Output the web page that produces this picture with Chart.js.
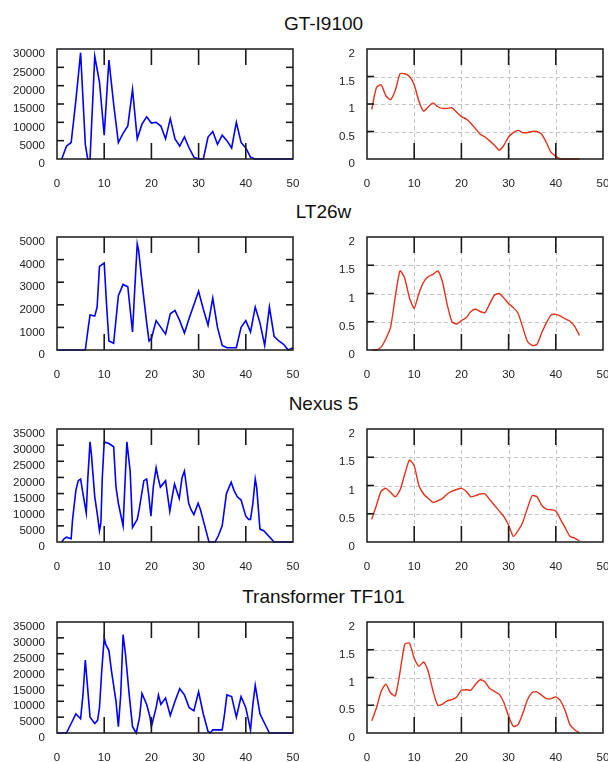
<!DOCTYPE html>
<html><head><meta charset="utf-8">
<script src="https://cdn.jsdelivr.net/npm/chart.js@4/dist/chart.umd.min.js"></script>
<style>
html,body{margin:0;padding:0;background:#fff;}
#wrap{position:relative;width:608px;height:762px;overflow:hidden;background:#fff;}
.title{position:absolute;left:0;width:647px;text-align:center;font-family:"Liberation Sans",Arial,sans-serif;font-size:19px;line-height:20px;height:20px;color:#111;white-space:nowrap;}
canvas{position:absolute;}
</style></head><body><div id="wrap"></div>
<script>
// ---- titles ----
const titles = ["GT-I9100", "LT26w", "Nexus 5", "Transformer TF101"];

// ---- axis ticks ----
const xTicks = [0, 10, 20, 30, 40, 50];
const leftMax = [30000, 5000, 35000, 35000];
const leftStep = [5000, 1000, 5000, 5000];
const rightMax = 2;
const rightStep = 0.5;

// ---- left (blue) series: x positions and values ----
const gtX = [1,2,3,4,5,6,6.5,7,8,9,10,11,12,13,14,15,16,17,18,19,20,21,22,23,24,25,26,27,28,29,30,31,32,33,34,35,36,37,38,39,40,41,42,50];
const gtY = [0,3500,4500,16000,29000,4000,0,0,28000,21000,6500,27000,15000,4500,7000,9000,19000,5500,9500,11500,9800,10000,9000,5500,11000,5500,3500,6000,3000,500,0,0,6000,7500,4000,6500,5000,3000,10000,4500,3000,500,0,0];

const ltX = [0,6,6.5,7,8,8.5,9,10,10.5,11,12,13,14,15,16,16.5,17,17.3,18,19,19.5,20,21,22,23,24,25,26,27,28,29,30,31,32,33,34,35,36,37,38,39,40,41,42,43,44,45,46,47,48,49,50];
const ltY = [0,0,800,1550,1500,1900,3700,3850,2000,400,300,2400,2900,2800,800,2800,4700,4400,3000,1200,400,500,1300,1000,700,1600,1750,1300,750,1400,2000,2600,1800,1100,2300,1000,200,100,100,100,1000,1300,800,1900,1200,200,1900,600,400,250,0,100];

const nxX = [1,1.5,2,3,3.3,4,4.5,5,5.5,6.2,6.5,7,7.3,8,8.5,9,9.3,9.6,10,11,12,12.5,13,14,14.8,15.5,16,17,17.4,18.4,19,19.4,19.9,20.4,21,21.4,21.9,23,23.9,24.4,24.9,25.9,26.5,27,27.9,28.4,29,29.9,30.4,31.3,32.2,33.5,34.2,35,35.9,36.9,37.5,38.2,39,40,40.6,41,41.5,42,42.3,43,43.8,46,50];
const nxY = [0,1000,1500,1000,7000,16000,19000,19500,15000,9000,19000,31000,27000,14000,9000,3500,6000,20000,31000,30500,29500,17000,12000,5000,31000,22000,4500,7000,10000,19000,19500,15000,8000,17000,23000,20000,17000,19000,9500,14000,18000,13500,20000,22000,12000,10000,8500,12000,10000,5000,0,0,2000,5000,15000,18500,16000,14000,13000,8000,7000,7000,12000,19500,17000,4000,3500,0,0];

const tfX = [0,2,3,4,5,5.5,6,6.5,7,8,8.6,9,9.5,10,10.3,11,11.5,12.5,13,13.5,14,14.5,15.3,16,16.8,17.5,18,19,19.7,20,21,21.5,22,23,24,25,26,27,28,29,30,31,32,32.5,33,35,35.5,36,37,38,39,40,41,41.5,42,43,44,45,50];
const tfY = [0,0,3000,6000,4500,12000,23000,14000,5000,3000,4000,8000,20000,30000,28000,26000,20000,10000,2000,12000,31000,25000,12000,2000,0,5000,12500,9000,5000,2000,8000,12000,9000,11000,5500,10000,14000,12000,8000,7000,13000,6000,500,0,1000,1000,6000,12000,11500,5000,11500,8000,1000,9000,15000,6000,3000,0,0];

// ---- right (red) series: x positions and values ----
const rX = [1,2,3,4,5,6,7,8,9,10,11,12,13,14,15,16,17,18,19,20,21,22,23,24,25,26,27,28,29,30,31,32,33,34,35,36,37,38,39,40,41,42,43,44,45];
const gtR = [0.9,1.3,1.35,1.15,1.08,1.25,1.55,1.55,1.5,1.35,1.05,0.87,0.95,1.02,0.95,0.92,0.92,0.93,0.85,0.77,0.73,0.65,0.55,0.45,0.4,0.33,0.25,0.16,0.25,0.4,0.48,0.52,0.48,0.48,0.5,0.5,0.45,0.3,0.12,0.05,0,0,0,0,0];
const ltR = [0,0,0.05,0.2,0.4,0.95,1.4,1.27,0.92,0.74,1.0,1.2,1.3,1.34,1.4,1.2,0.8,0.5,0.46,0.52,0.57,0.68,0.72,0.68,0.66,0.82,0.97,1.0,0.92,0.82,0.75,0.65,0.4,0.15,0.08,0.1,0.3,0.48,0.62,0.63,0.6,0.55,0.51,0.42,0.26];
const nxR = [0.4,0.65,0.9,0.95,0.88,0.8,0.92,1.2,1.45,1.35,1.0,0.85,0.77,0.7,0.73,0.77,0.85,0.9,0.93,0.95,0.9,0.8,0.82,0.85,0.85,0.75,0.65,0.55,0.45,0.3,0.1,0.2,0.35,0.6,0.82,0.8,0.65,0.58,0.57,0.55,0.4,0.25,0.1,0.07,0.02];
const tfR = [0.22,0.45,0.75,0.88,0.72,0.67,1.1,1.6,1.62,1.35,1.2,1.28,1.1,0.75,0.5,0.52,0.58,0.6,0.65,0.77,0.78,0.77,0.88,0.96,0.92,0.8,0.75,0.7,0.55,0.3,0.12,0.15,0.35,0.6,0.73,0.74,0.68,0.62,0.62,0.65,0.58,0.4,0.15,0.06,0];

const leftSeries = [[gtX, gtY], [ltX, ltY], [nxX, nxY], [tfX, tfY]];
const rightSeries = [gtR, ltR, nxR, tfR];

// ---- layout ----
const boxTops = [49, 237, 429, 622];
const boxBottoms = [159, 350, 542, 733];
const FONT = {family: '"Liberation Sans", Arial, sans-serif', size: 11.5};
const LABEL_COLOR = '#222';

const wrap = document.getElementById('wrap');

const framePlugin = {
  id: 'frame',
  beforeDatasetsDraw(chart, args, opts) {
    if (!opts.dashed) return;
    const {ctx, chartArea: a, scales: {x, y}} = chart;
    ctx.save();
    ctx.strokeStyle = '#c4c4c4';
    ctx.lineWidth = 1;
    ctx.setLineDash([4, 3]);
    x.ticks.forEach(t => {
      if (t.value <= x.min || t.value >= x.max) return;
      const px = Math.round(x.getPixelForValue(t.value)) + 0.5;
      ctx.beginPath(); ctx.moveTo(px, a.top); ctx.lineTo(px, a.bottom); ctx.stroke();
    });
    y.ticks.forEach(t => {
      if (t.value <= y.min || t.value >= y.max) return;
      const py = Math.round(y.getPixelForValue(t.value)) + 0.5;
      ctx.beginPath(); ctx.moveTo(a.left, py); ctx.lineTo(a.right, py); ctx.stroke();
    });
    ctx.restore();
  },
  afterDatasetsDraw(chart) {
    const {ctx, chartArea: a, scales: {x, y}} = chart;
    ctx.save();
    ctx.strokeStyle = '#1a1a1a';
    ctx.lineWidth = 1.6;
    ctx.setLineDash([]);
    x.ticks.forEach(t => {
      if (t.value <= x.min || t.value >= x.max) return;
      const px = x.getPixelForValue(t.value);
      ctx.beginPath(); ctx.moveTo(px, a.top); ctx.lineTo(px, a.top + 16); ctx.stroke();
      ctx.beginPath(); ctx.moveTo(px, a.bottom); ctx.lineTo(px, a.bottom - 16); ctx.stroke();
    });
    y.ticks.forEach(t => {
      if (t.value <= y.min || t.value >= y.max) return;
      const py = y.getPixelForValue(t.value);
      ctx.beginPath(); ctx.moveTo(a.left, py); ctx.lineTo(a.left + 7, py); ctx.stroke();
      ctx.beginPath(); ctx.moveTo(a.right, py); ctx.lineTo(a.right - 7, py); ctx.stroke();
    });
    ctx.lineWidth = 1.5;
    ctx.strokeRect(a.left, a.top, a.right - a.left, a.bottom - a.top);
    ctx.restore();
  }
};

function makePanel(cLeft, cWidth, yW, padRight, row, xs, ys, yMax, yStep, color, dashed, smooth) {
  const padTop = 12, xH = 40;
  const cTop = boxTops[row] - padTop;
  const cHeight = boxBottoms[row] - boxTops[row] + padTop + xH;
  const cv = document.createElement('canvas');
  cv.width = cWidth; cv.height = cHeight;
  cv.style.left = cLeft + 'px'; cv.style.top = cTop + 'px';
  cv.style.width = cWidth + 'px'; cv.style.height = cHeight + 'px';
  wrap.appendChild(cv);
  new Chart(cv, {
    type: 'line',
    data: {datasets: [{
      data: xs.map((v, i) => ({x: v, y: ys[i]})),
      borderColor: color, borderWidth: smooth ? 1.4 : 1.6, pointRadius: 0, fill: false,
      tension: smooth ? 0.2 : 0, clip: false
    }]},
    options: {
      responsive: false, animation: false, devicePixelRatio: 1, events: [],
      layout: {padding: {top: padTop, right: padRight, left: 0, bottom: 0}},
      plugins: {legend: {display: false}, tooltip: {enabled: false}, title: {display: false}, frame: {dashed}},
      scales: {
        x: {
          type: 'linear', min: xTicks[0], max: xTicks[xTicks.length - 1],
          afterBuildTicks(s) { s.ticks = xTicks.map(v => ({value: v})); },
          ticks: {padding: 18, color: LABEL_COLOR, font: FONT, maxRotation: 0, autoSkip: false, callback: v => String(v)},
          grid: {display: false, drawTicks: false}, border: {display: false},
          afterFit(s) { s.height = xH; s.paddingLeft = 0; s.paddingRight = 0; }
        },
        y: {
          type: 'linear', min: 0, max: yMax,
          ticks: {stepSize: yStep, padding: 12, labelOffset: 5, autoSkip: false, color: LABEL_COLOR, font: FONT, callback: v => String(v)},
          grid: {display: false, drawTicks: false}, border: {display: false},
          afterFit(s) { s.width = yW; s.paddingTop = 0; s.paddingBottom = 0; }
        }
      }
    },
    plugins: [framePlugin]
  });
}

titles.forEach((t, r) => {
  const d = document.createElement('div');
  d.className = 'title';
  d.textContent = t;
  d.style.top = (boxTops[r] - 25 - 10) + 'px';
  wrap.appendChild(d);
  makePanel(0, 300, 57, 7, r, leftSeries[r][0], leftSeries[r][1], leftMax[r], leftStep[r], '#0000ff', false, false);
  makePanel(300, 308, 67, 5, r, rX, rightSeries[r], rightMax, rightStep, '#e4321c', true, true);
});
</script>
</body></html>
